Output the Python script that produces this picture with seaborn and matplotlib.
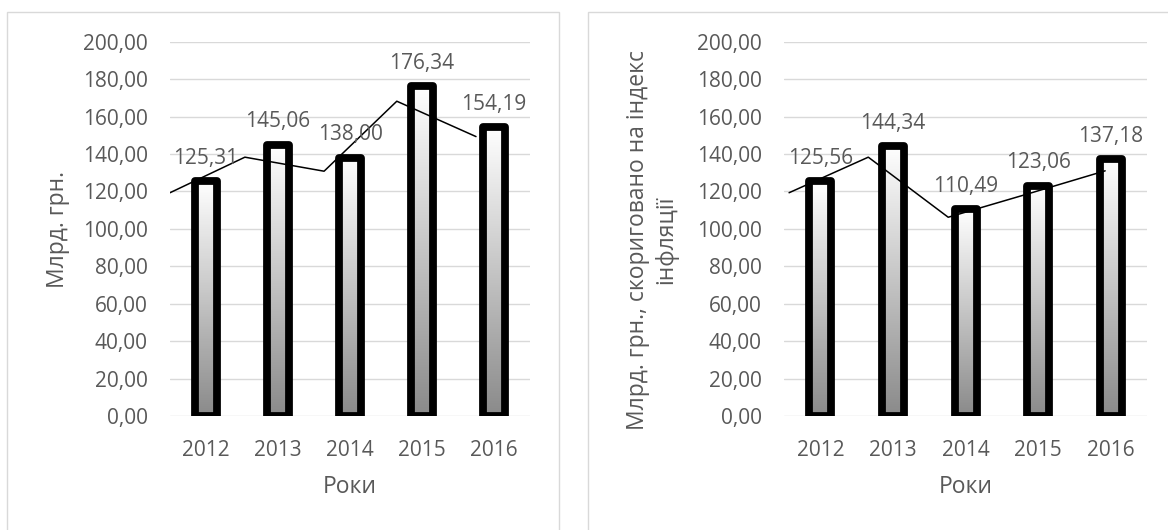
import numpy as np
import matplotlib
matplotlib.use("Agg")
import matplotlib.pyplot as plt
import seaborn as sns
from matplotlib.colors import LinearSegmentedColormap
from matplotlib.patches import Rectangle

years = ["2012", "2013", "2014", "2015", "2016"]
nominal = [125.31, 145.06, 138.00, 176.34, 154.19]
adjusted = [125.56, 144.34, 110.49, 123.06, 137.18]

# thin trend line drawn over the bars (position on category axis, value)
trend_left_x = [-0.50, 0.54, 1.64, 2.65, 3.75]
trend_left_y = [119.3, 138.3, 130.8, 168.2, 149.3]
trend_right_x = [-0.43, 0.66, 1.76, 2.84, 3.92]
trend_right_y = [119.3, 138.3, 106.2, 118.5, 131.0]

yticks = [0, 20, 40, 60, 80, 100, 120, 140, 160, 180, 200]

sns.set_style("white")
plt.rcParams["font.family"] = ["Open Sans", "DejaVu Sans"]

TXT = "#595959"
GRID = "#d9d9d9"
W, H = 1168, 530
fig = plt.figure(figsize=(W / 100, H / 100), dpi=100)

grad_cmap = LinearSegmentedColormap.from_list("g", ["#8a8a8a", "#ffffff"])
grad = np.linspace(0, 1, 256).reshape(-1, 1)


def fmt(v):
    return f"{v:.2f}".replace(".", ",")


def panel(rect, values, tx, ty):
    ax = fig.add_axes(rect)
    sns.barplot(x=years, y=values, ax=ax, width=0.3, color="white")
    for p in ax.patches:
        x0, w, h = p.get_x(), p.get_width(), p.get_height()
        ax.imshow(grad, extent=(x0, x0 + w, 0, h), origin="lower", cmap=grad_cmap,
                  aspect="auto", interpolation="bilinear", zorder=1.5)
        p.set_facecolor("none")
        p.set_edgecolor("black")
        p.set_linewidth(5.6)
        p.set_joinstyle("round")
        p.set_zorder(2)
        ax.annotate(fmt(h), (x0 + w / 2, h), xytext=(0, 12.5), textcoords="offset points",
                    ha="center", va="baseline", fontsize=15, color=TXT, zorder=4)
    ax.plot(tx, ty, color="black", lw=1.1, zorder=3)
    ax.set_xlim(-0.5, 4.5)
    ax.set_ylim(0, 200)
    ax.set_yticks(yticks)
    ax.set_yticklabels([fmt(v) for v in yticks])
    ax.grid(axis="y", color=GRID, lw=1.0)
    ax.set_axisbelow(True)
    for s in ax.spines.values():
        s.set_visible(False)
    ax.tick_params(axis="both", length=0, labelsize=15, labelcolor=TXT)
    ax.tick_params(axis="y", pad=16)
    ax.tick_params(axis="x", pad=17)
    ax.set_xlabel("")
    ax.set_ylabel("")
    return ax


y0 = (H - 416) / H
hgt = (416 - 41.7) / H
panel([170 / W, y0, 360 / W, hgt], nominal, trend_left_x, trend_left_y)
panel([784 / W, y0, 363.3 / W, hgt], adjusted, trend_right_x, trend_right_y)

# chart area borders
for x0, x1 in [(7.3, 559), (588, 1175)]:
    fig.patches.append(Rectangle((x0 / W, -0.02), (x1 - x0) / W, (H - 12.3) / H + 0.02,
                                 transform=fig.transFigure, fill=False, ec=GRID, lw=1.0))

fig.text(350 / W, 1 - 486.7 / H, "Роки", ha="center", va="center", fontsize=16.5, color=TXT)
fig.text(965.6 / W, 1 - 486.7 / H, "Роки", ha="center", va="center", fontsize=16.5, color=TXT)
fig.text(58 / W, 1 - 229 / H, "Млрд. грн.", rotation=90, ha="center", va="center",
         fontsize=16.5, color=TXT)
fig.text(652 / W, 1 - 240 / H, "Млрд. грн., скориговано на індекс\nінфляції", rotation=90,
         ha="center", va="center", multialignment="center", linespacing=1.2,
         fontsize=16.5, color=TXT)

fig.savefig("out.png", dpi=100)
